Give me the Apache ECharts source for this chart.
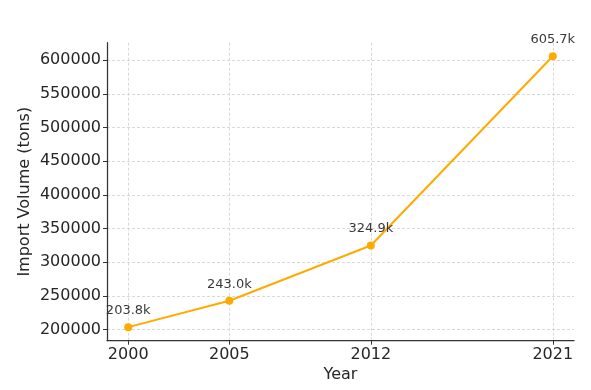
<!DOCTYPE html>
<html>
<head>
<meta charset="utf-8">
<script src="https://cdn.jsdelivr.net/npm/echarts@6/dist/echarts.min.js"></script>
<style>
html,body{margin:0;padding:0;background:#fff;}
#chart{width:591px;height:390px;}
</style>
</head>
<body>
<div id="chart"></div>
<script>
const years = [2000, 2005, 2012, 2021];
const importVolume = [203800, 243000, 324900, 605700];
const yTicks = [200000, 250000, 300000, 350000, 400000, 450000, 500000, 550000, 600000];
const xTicks = [2000, 2005, 2012, 2021];

const yPad = (Math.max(...importVolume) - Math.min(...importVolume)) * 0.05;
const xPad = (Math.max(...years) - Math.min(...years)) * 0.05;

const chart = echarts.init(document.getElementById('chart'), null, {renderer: 'canvas'});
const font = 'DejaVu Sans';
chart.setOption({
  animation: false,
  backgroundColor: '#fff',
  grid: {left: 107, right: 17, top: 42.7, bottom: 49.3, containLabel: false},
  xAxis: {
    type: 'value',
    min: Math.min(...years) - xPad,
    max: Math.max(...years) + xPad,
    name: 'Year',
    nameLocation: 'middle',
    nameGap: 26,
    nameMoveOverlap: false,
    nameTextStyle: {fontFamily: font, fontSize: 16, color: '#262626'},
    axisLine: {show: true, lineStyle: {color: '#333', width: 1.25}},
    axisTick: {show: true, inside: false, length: 4, lineStyle: {color: '#333', width: 1}, customValues: xTicks},
    axisLabel: {fontFamily: font, fontSize: 16, color: '#262626', margin: 6, customValues: xTicks, formatter: v => String(v)},
    splitLine: {show: true, lineStyle: {color: '#cfcfcf', type: [3, 2], width: 0.8}}
  },
  yAxis: {
    type: 'value',
    min: Math.min(...importVolume) - yPad,
    max: Math.max(...importVolume) + yPad,
    name: 'Import Volume (tons)',
    nameLocation: 'middle',
    nameGap: 74,
    nameMoveOverlap: false,
    nameTextStyle: {fontFamily: font, fontSize: 16, color: '#262626'},
    axisLine: {show: true, lineStyle: {color: '#333', width: 1.25}},
    axisTick: {show: true, inside: false, length: 4, lineStyle: {color: '#333', width: 1}, customValues: yTicks},
    axisLabel: {fontFamily: font, fontSize: 16, color: '#262626', margin: 6, customValues: yTicks, formatter: v => String(v)},
    splitLine: {show: true, lineStyle: {color: '#cfcfcf', type: [3, 2], width: 0.8}}
  },
  series: [{
    type: 'line',
    data: years.map((y, i) => [y, importVolume[i]]),
    color: '#FFAA00',
    lineStyle: {width: 2, color: '#FFAA00'},
    symbol: 'circle',
    symbolSize: 8,
    itemStyle: {color: '#FFAA00'},
    label: {
      show: true,
      position: 'top',
      distance: 6,
      fontFamily: font,
      fontSize: 13,
      color: '#3a3a3a',
      formatter: p => (p.value[1] / 1000).toFixed(1) + 'k'
    }
  }]
});
</script>
</body>
</html>
